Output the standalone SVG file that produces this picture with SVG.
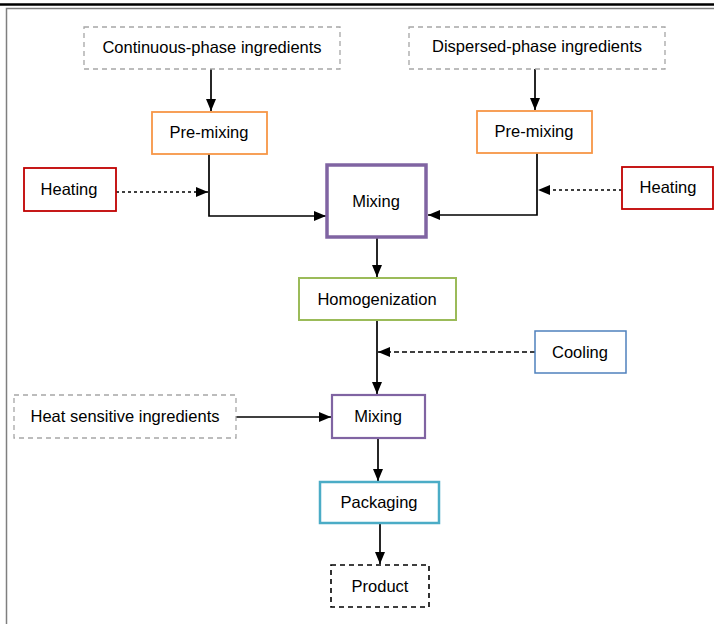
<svg xmlns="http://www.w3.org/2000/svg" width="714" height="624" viewBox="0 0 714 624">
<style>
text{font-family:"Liberation Sans",Arial,sans-serif;font-size:16.5px;fill:#000;text-anchor:middle;dominant-baseline:central}
.box{fill:#fff}
.ing{stroke:#a6a6a6;stroke-width:1.3;stroke-dasharray:5 4}
.pre{stroke:#f79646;stroke-width:1.8}
.heat{stroke:#c00000;stroke-width:1.8}
.mix{stroke:#8064a2}
.c{fill:none;stroke:#000;stroke-width:1.7}
</style>
<defs>
<marker id="ah" viewBox="0 0 12 10" refX="12" refY="5" markerWidth="12" markerHeight="10" markerUnits="userSpaceOnUse" orient="auto"><path d="M0,0L12,5L0,10z" fill="#000"/></marker>
</defs>
<rect width="714" height="624" fill="#fff"/>
<line x1="0" y1="4.5" x2="714" y2="4.5" stroke="#000" stroke-width="2.5"/>
<path d="M6.5,624V8.5H714" fill="none" stroke="#7f7f7f" stroke-width="1.5"/>
<g id="connectors">
<line class="c" x1="211" y1="69" x2="211" y2="111" marker-end="url(#ah)"/>
<line class="c" x1="535" y1="69" x2="535" y2="110" marker-end="url(#ah)"/>
<polyline class="c" points="209,154 209,216 326,216" marker-end="url(#ah)"/>
<polyline class="c" points="537,153 537,215 428,215" marker-end="url(#ah)"/>
<line class="c" x1="116" y1="192" x2="208" y2="192" stroke-width="2.8" stroke-dasharray="3 3" marker-end="url(#ah)"/>
<line class="c" x1="622" y1="190" x2="538" y2="190" stroke-width="2.8" stroke-dasharray="3 3" marker-end="url(#ah)"/>
<line class="c" x1="377" y1="238" x2="377" y2="277" marker-end="url(#ah)"/>
<line class="c" x1="377" y1="320" x2="377" y2="394" marker-end="url(#ah)"/>
<line class="c" x1="535" y1="352" x2="378" y2="352" stroke-dasharray="5 3" marker-end="url(#ah)"/>
<line class="c" x1="236" y1="417" x2="331" y2="417" marker-end="url(#ah)"/>
<line class="c" x1="378" y1="438" x2="378" y2="481" marker-end="url(#ah)"/>
<line class="c" x1="380" y1="523" x2="380" y2="564" marker-end="url(#ah)"/>
</g>
<g id="continuous"><rect class="box ing" x="84" y="27" width="256" height="42"/><text x="212" y="47">Continuous-phase ingredients</text></g>
<g id="dispersed"><rect class="box ing" x="409" y="27" width="256" height="42"/><text x="537" y="46">Dispersed-phase ingredients</text></g>
<g id="premix1"><rect class="box pre" x="152" y="112" width="115" height="42"/><text x="209" y="132">Pre-mixing</text></g>
<g id="premix2"><rect class="box pre" x="477" y="111" width="115" height="42"/><text x="534" y="131">Pre-mixing</text></g>
<g id="heating1"><rect class="box heat" x="24" y="168" width="92" height="43"/><text x="69" y="189">Heating</text></g>
<g id="heating2"><rect class="box heat" x="622" y="167" width="91" height="42"/><text x="668" y="187">Heating</text></g>
<g id="mixing1"><rect class="box mix" x="327" y="165" width="99" height="72" stroke-width="3.5"/><text x="376" y="201">Mixing</text></g>
<g id="homogenization"><rect class="box" x="299" y="278" width="157" height="42" stroke="#9bbb59" stroke-width="2"/><text x="377" y="299">Homogenization</text></g>
<g id="cooling"><rect class="box" x="535" y="331" width="91" height="42" stroke="#4f81bd" stroke-width="1.5"/><text x="580" y="352">Cooling</text></g>
<g id="heatsensitive"><rect class="box ing" x="14" y="395" width="222" height="43"/><text x="125" y="416">Heat sensitive ingredients</text></g>
<g id="mixing2"><rect class="box mix" x="332" y="395" width="93" height="43" stroke-width="2.2"/><text x="378" y="416">Mixing</text></g>
<g id="packaging"><rect class="box" x="320" y="482" width="119" height="41" stroke="#4bacc6" stroke-width="2.5"/><text x="379" y="502">Packaging</text></g>
<g id="product"><rect class="box" x="331" y="565" width="98" height="42" stroke="#000" stroke-width="1.6" stroke-dasharray="5 4"/><text x="380" y="586">Product</text></g>
</svg>
